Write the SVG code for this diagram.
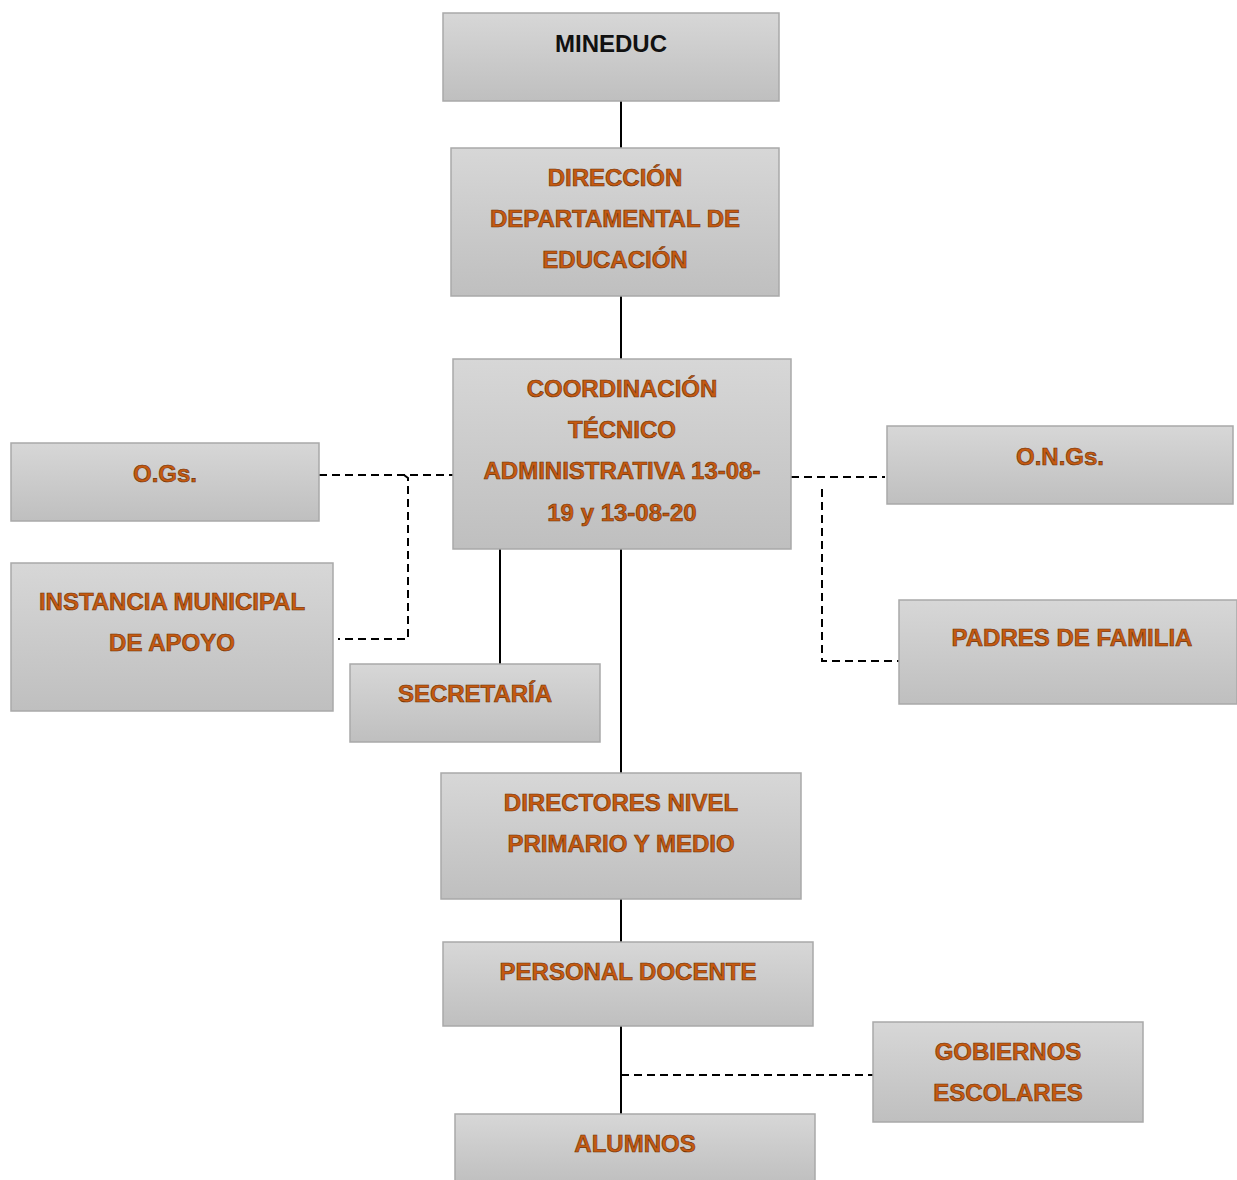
<svg xmlns="http://www.w3.org/2000/svg" width="1237" height="1180" viewBox="0 0 1237 1180">
<defs>
<linearGradient id="g" x1="0" y1="0" x2="0" y2="1">
<stop offset="0" stop-color="#d7d7d7"/>
<stop offset="1" stop-color="#bfbfbf"/>
</linearGradient>
</defs>
<style>
.box{fill:url(#g);stroke:#a9a9a9;stroke-width:1.5}
.t{font-family:"Liberation Sans",Arial,sans-serif;font-weight:bold;font-size:24px;fill:#C55A11;stroke:#6b2e05;stroke-width:0.6;text-anchor:middle}
.k{font-family:"Liberation Sans",Arial,sans-serif;font-weight:bold;font-size:24px;fill:#111;text-anchor:middle}
.s{stroke:#000;stroke-width:2;fill:none}
.d{stroke:#000;stroke-width:2;fill:none;stroke-dasharray:8 5}
</style>
<rect width="1237" height="1180" fill="#fff"/>
<g id="connectors">
<line class="s" x1="621" y1="101" x2="621" y2="148"/>
<line class="s" x1="621" y1="296" x2="621" y2="359"/>
<line class="s" x1="621" y1="549" x2="621" y2="773"/>
<line class="s" x1="500" y1="549" x2="500" y2="664"/>
<line class="s" x1="621" y1="899" x2="621" y2="942"/>
<line class="s" x1="621" y1="1026" x2="621" y2="1114"/>
<line class="d" x1="319" y1="475" x2="453" y2="475"/>
<polyline class="d" points="404,475 408,478 408,639 338,639"/>
<line class="d" x1="791" y1="477" x2="885" y2="477"/>
<polyline class="d" points="822,489 822,661 899,661"/>
<line class="d" x1="621" y1="1075" x2="873" y2="1075"/>
</g>
<g id="mineduc"><rect class="box" x="443" y="13" width="336" height="88"/><text class="k" x="611" y="52">MINEDUC</text></g>
<g id="direccion"><rect class="box" x="451" y="148" width="328" height="148"/>
<text class="t" x="615" y="186">DIRECCIÓN</text><text class="t" x="615" y="227">DEPARTAMENTAL DE</text><text class="t" x="615" y="268">EDUCACIÓN</text></g>
<g id="coordinacion"><rect class="box" x="453" y="359" width="338" height="190"/>
<text class="t" x="622" y="397">COORDINACIÓN</text><text class="t" x="622" y="438">TÉCNICO</text><text class="t" x="622" y="479">ADMINISTRATIVA 13-08-</text><text class="t" x="622" y="521">19 y 13-08-20</text></g>
<g id="ogs"><rect class="box" x="11" y="443" width="308" height="78"/><text class="t" x="165" y="482">O.Gs.</text></g>
<g id="instancia"><rect class="box" x="11" y="563" width="322" height="148"/>
<text class="t" x="172" y="610">INSTANCIA MUNICIPAL</text><text class="t" x="172" y="651">DE APOYO</text></g>
<g id="secretaria"><rect class="box" x="350" y="664" width="250" height="78"/><text class="t" x="475" y="702">SECRETARÍA</text></g>
<g id="ongs"><rect class="box" x="887" y="426" width="346" height="78"/><text class="t" x="1060" y="465">O.N.Gs.</text></g>
<g id="padres"><rect class="box" x="899" y="600" width="338" height="104"/><text class="t" x="1072" y="646">PADRES DE FAMILIA</text></g>
<g id="directores"><rect class="box" x="441" y="773" width="360" height="126"/>
<text class="t" x="621" y="811">DIRECTORES NIVEL</text><text class="t" x="621" y="852">PRIMARIO Y MEDIO</text></g>
<g id="personal"><rect class="box" x="443" y="942" width="370" height="84"/><text class="t" x="628" y="980">PERSONAL DOCENTE</text></g>
<g id="gobiernos"><rect class="box" x="873" y="1022" width="270" height="100"/>
<text class="t" x="1008" y="1060">GOBIERNOS</text><text class="t" x="1008" y="1101">ESCOLARES</text></g>
<g id="alumnos"><rect class="box" x="455" y="1114" width="360" height="70"/><text class="t" x="635" y="1152">ALUMNOS</text></g>
</svg>
